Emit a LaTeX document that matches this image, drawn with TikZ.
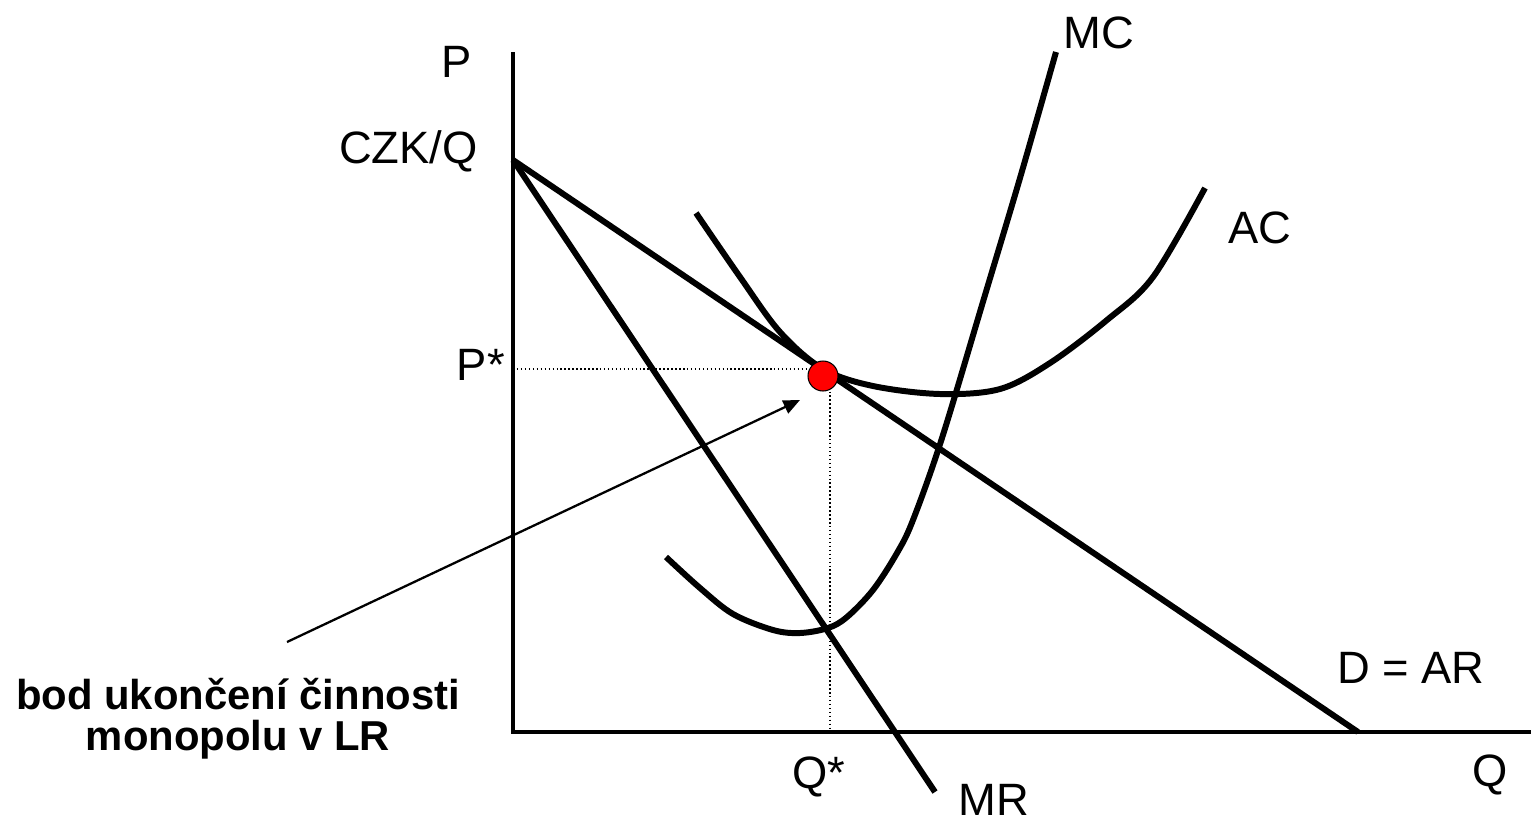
\documentclass[tikz,border=0pt]{standalone}
\usepackage{fontspec}
\setmainfont{Liberation Sans}
\usetikzlibrary{arrows.meta}
\tikzset{
  >={Triangle[length=3.3mm,width=2.8mm]},
  crv/.style={line width=3.4pt},
  ax/.style={line width=1.9pt},
  guide/.style={line width=0.85pt,dash pattern=on 0.85pt off 1.4pt},
  lbl/.style={inner sep=0pt,font=\fontsize{25.8}{30}\selectfont},
  eq/.style={circle,draw,fill=red,minimum size=6mm,inner sep=0pt,line width=0.6pt},
}
\begin{document}
\begin{tikzpicture}[x=0.2mm,y=-0.2mm]
\useasboundingbox (0,0) rectangle (1531,822);
\coordinate (o) at (513,732); \coordinate (ytop) at (513,52); \coordinate (xend) at (1531,732);
\coordinate (pmax) at (513,160); \coordinate (dq) at (1358,732); \coordinate (mrend) at (935,792);
\coordinate (t) at (823,369); \coordinate (note) at (287,642); \coordinate (tip) at (800,400);
% axes
\draw[ax] (ytop) -- (o) -- (xend);
% demand and marginal revenue
\draw[crv] (pmax) -- (dq); \draw[crv] (pmax) -- (mrend);
% cost curves
\draw[crv] plot[smooth,tension=0.55] coordinates {(666,557) (700,588) (733,614) (773,630) (800,633)
  (828,628) (847,617) (873,590) (897,553) (913,520) (942,438) (985,295) (1020,178) (1056,52)};
\draw[crv] plot[smooth,tension=0.55] coordinates {(696,213) (740,277) (780,332) (823,369) (873,386)
  (940,394) (1000,389) (1050,363) (1107,320) (1153,277) (1205,188)};
% equilibrium
\node[eq] (e) at (823,376) {};
\draw[guide] (t -| o) -- (e.west |- t); \draw[guide] ([xshift=4]e.south) -- ([xshift=4]e.south |- o);
\draw[->,line width=1.3pt] (note) -- (tip);
% labels
\node[lbl,anchor=base] (p) at (457,77) {P};
\node[lbl,anchor=base east] (czk) at (478,163) {CZK/Q};
\node[lbl,anchor=base east] (ps) at (505,380) {P*};
\node[lbl,anchor=base west] (mc) at (1063,48) {MC};
\node[lbl,anchor=base west] (ac) at (1228,243) {AC};
\node[lbl,anchor=base west] (dar) at (1337,683) {D = AR};
\node[lbl,anchor=base west] (q) at (1472,786) {Q};
\node[lbl,anchor=base west] (qs) at (792,788) {Q*};
\node[lbl,anchor=base west] (mr) at (958,815) {MR};
\node[lbl,anchor=base,align=center,font=\bfseries\fontsize{23.8}{23.3}\selectfont] (txt) at (238,750)
  {bod ukončení činnosti\\monopolu v LR};
\end{tikzpicture}
\end{document}
